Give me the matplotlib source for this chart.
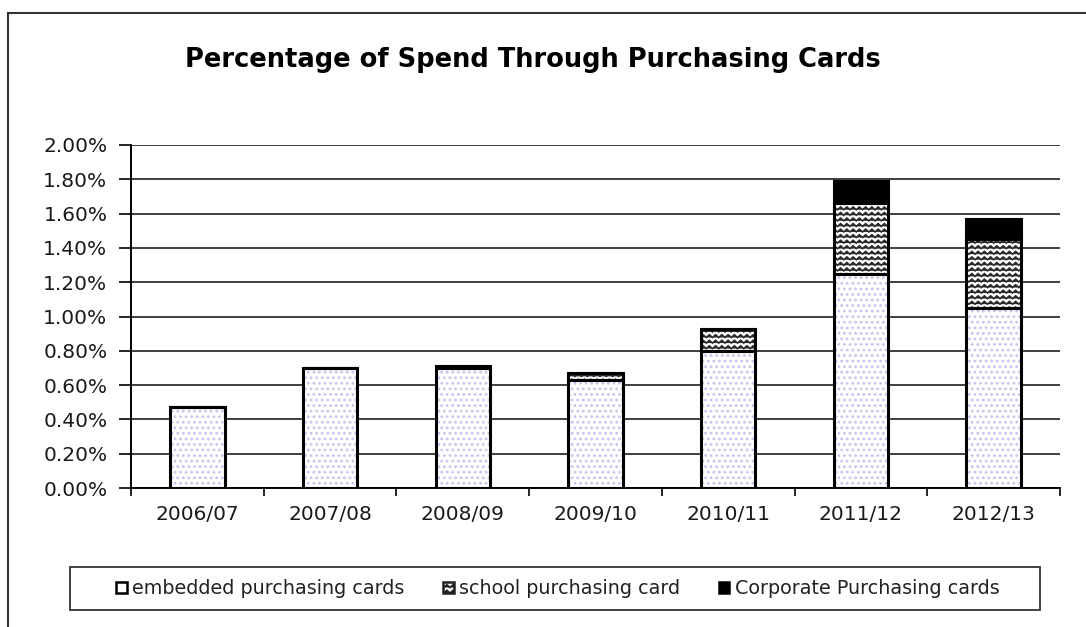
import numpy as np
import matplotlib
matplotlib.use("Agg")
import matplotlib.pyplot as plt
import matplotlib.hatch as mhatch
from matplotlib.path import Path
from matplotlib.lines import Line2D
from matplotlib.patches import Patch, Rectangle
from matplotlib.ticker import FuncFormatter, FixedLocator
import warnings

warnings.filterwarnings("ignore")


# zigzag hatch ('z'), like the old spreadsheet "wave" fill
class ZigzagHatch(mhatch.HatchPatternBase):
    waves = 16

    def __init__(self, hatch, density):
        self.num_lines = int(hatch.count('z') * density)
        self.per_line = 2 * self.waves + 1
        self.num_vertices = self.num_lines * self.per_line

    def set_vertices_and_codes(self, vertices, codes):
        steps, stepsize = np.linspace(0.0, 1.0, self.num_lines, False, retstep=True)
        steps += stepsize / 2.
        xs = np.linspace(0.0, 1.0, self.per_line)
        amp = stepsize * 0.25
        offs = np.where(np.arange(self.per_line) % 2 == 0, -amp, amp)
        for i, y in enumerate(steps):
            s = i * self.per_line
            vertices[s:s + self.per_line, 0] = xs
            vertices[s:s + self.per_line, 1] = y + offs
            codes[s] = Path.MOVETO
            codes[s + 1:s + self.per_line] = Path.LINETO


mhatch._hatch_types.append(ZigzagHatch)

plt.rcParams['font.family'] = ['DejaVu Sans']
plt.rcParams['hatch.linewidth'] = 1.2

years = ["2006/07", "2007/08", "2008/09", "2009/10", "2010/11", "2011/12", "2012/13"]
embedded = [0.47, 0.70, 0.70, 0.63, 0.80, 1.25, 1.05]
school = [0.00, 0.00, 0.01, 0.04, 0.13, 0.41, 0.40]
corporate = [0.00, 0.00, 0.00, 0.00, 0.00, 0.13, 0.12]
series_names = ["embedded purchasing cards", "school purchasing card", "Corporate Purchasing cards"]

W, H = 1086, 627
fig = plt.figure(figsize=(W / 100, H / 100), dpi=100)
ax = fig.add_axes([131 / W, 1 - 488 / H, (1060 - 131) / W, (488 - 145) / H])

x = np.arange(len(years))
w = 0.41
emb = np.array(embedded)
sch = np.array(school)
cor = np.array(corporate)

# embedded: light dotted fill, then black outline on top
ax.bar(x, emb, w, color='white', edgecolor='#c4c4ee', hatch='...', linewidth=0, zorder=3)
ax.bar(x, emb, w, fill=False, edgecolor='black', linewidth=2.2, zorder=4)

# school: zigzag fill
ax.bar(x, sch, w, bottom=emb, color='white', edgecolor='#2a2a2a', hatch='zzz', linewidth=0, zorder=3)
ax.bar(x, sch, w, bottom=emb, fill=False, edgecolor='black', linewidth=2.2, zorder=4)

# corporate: solid black
ax.bar(x, cor, w, bottom=emb + sch, color='black', edgecolor='black', linewidth=2.2, zorder=4)

ax.set_xlim(-0.5, len(years) - 0.5)
ax.set_ylim(0, 2.0)
ax.set_yticks(np.arange(0, 2.01, 0.2))
ax.yaxis.set_major_formatter(FuncFormatter(lambda v, p: f"{v:.2f}%"))
ax.grid(axis='y', color='#303030', linewidth=1.3, zorder=0)
ax.set_axisbelow(True)

ax.set_xticks(x)
ax.set_xticklabels(years)
ax.tick_params(axis='x', which='major', length=0, pad=12, labelsize=14.5)
ax.xaxis.set_minor_locator(FixedLocator(np.arange(-0.5, len(years), 1.0)))
ax.tick_params(axis='x', which='minor', length=6, width=1.2, direction='out')
ax.tick_params(axis='y', length=9, width=1.2, direction='out', labelsize=14.5, pad=8)
for lbl in ax.get_xticklabels() + ax.get_yticklabels():
    lbl.set_color('#1a1a1a')

for s in ['top', 'right']:
    ax.spines[s].set_visible(False)
ax.spines['left'].set_linewidth(1.4)
ax.spines['bottom'].set_linewidth(1.4)

fig.text(533 / W, 1 - 60 / H, "Percentage of Spend Through Purchasing Cards",
         ha='center', va='center', fontsize=18.5, fontweight='bold')

# legend box drawn on its own, entries placed inside it
fig.add_artist(Rectangle((70 / W, 1 - 610 / H), (1040 - 70) / W, 43 / H,
                         transform=fig.transFigure, fill=False,
                         edgecolor='#333333', linewidth=1.3))
handles = [
    Patch(facecolor='white', edgecolor='black', linewidth=1.8),
    Patch(facecolor='white', edgecolor='#202020', hatch='zzz', linewidth=1.8),
    Patch(facecolor='black', edgecolor='black', linewidth=1.8),
]
leg = fig.legend(handles, series_names, ncol=3, loc='center',
                 bbox_to_anchor=(558 / W, 1 - 589 / H),
                 fontsize=13.8, frameon=False,
                 handlelength=0.55, handleheight=0.55, handletextpad=0.3,
                 columnspacing=2.0, borderpad=0, borderaxespad=0)
for t in leg.get_texts():
    t.set_color('#222222')

# outer chart frame (left and top edges)
fig.add_artist(Line2D([8 / W, 8 / W], [0, 1 - 13 / H], color='#333333', linewidth=1.5))
fig.add_artist(Line2D([8 / W, 1], [1 - 13 / H, 1 - 13 / H], color='#333333', linewidth=1.5))

fig.savefig("out.png", dpi=100)
